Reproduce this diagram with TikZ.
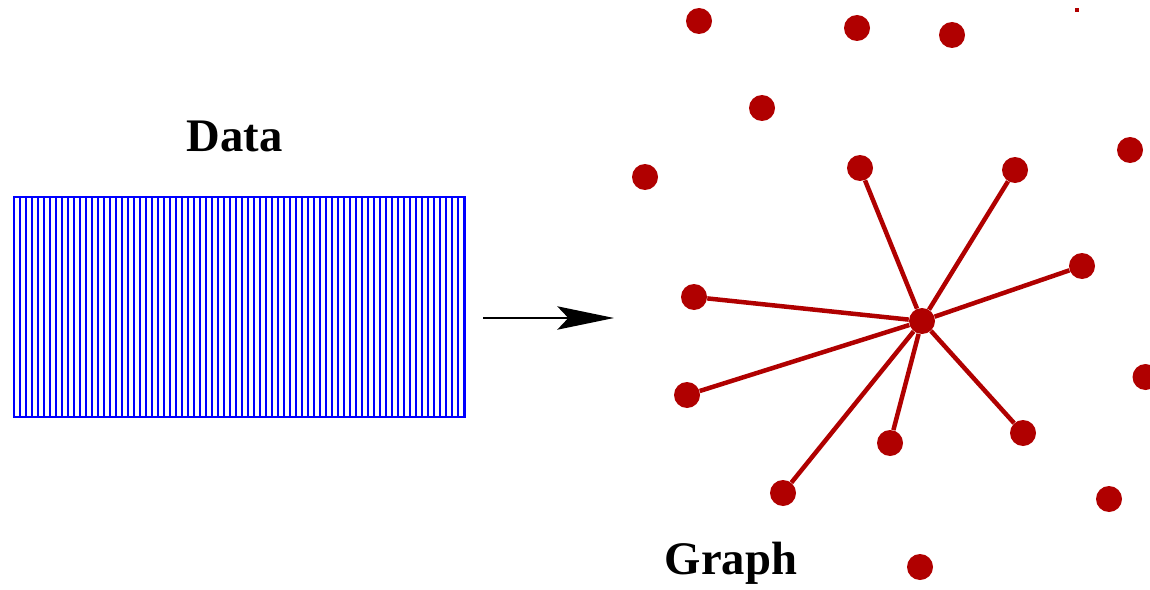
\documentclass[tikz,border=0pt]{standalone}
\usepackage{fontspec}
\setmainfont{Liberation Serif}
\usetikzlibrary{arrows.meta}
\definecolor{datablue}{HTML}{0000FF}
\definecolor{graphred}{HTML}{B00000}
\tikzset{
    every node/.style={font=\fontsize{28}{32}\selectfont\bfseries},
    datablock/.style={rectangle,draw=datablue,line width=0.9pt,minimum width=270.6pt,minimum height=132pt,inner sep=0pt},
    hatch/.style={datablue,line width=0.9pt},
    vtx/.style={circle,fill=graphred,minimum size=15.6pt,inner sep=0pt},
    speck/.style={rectangle,fill=graphred,minimum size=2pt,inner sep=0pt},
    link/.style={graphred,line width=2.7pt},
    flow/.style={-{Stealth[length=34pt,width=14pt,inset=6.6pt]},line width=1.5pt}
}
\begin{document}
\begin{tikzpicture}[x=0.6pt,y=-0.6pt]
    \useasboundingbox (0,0) rectangle (1150,590);
    % data block
    \node[anchor=base] (datalbl) at (234.5,152) {Data};
    \node[datablock] (data) at (239.5,307) {};
    \foreach \i in {0,...,75}
        \draw[hatch] (14+6*\i,197) -- (14+6*\i,417);
    \coordinate (flowS) at (483,318);
    \coordinate (flowE) at (614,318);
    \draw[flow] (flowS) -- (flowE);
    % graph
    \node[anchor=base] (graphlbl) at (731,574) {Graph};
    \node[speck] (sp) at (1077,10) {};
    \node[vtx] (hub) at (922,321) {};
    \node[vtx] (v1) at (699,21) {};
    \node[vtx] (v2) at (857,28) {};
    \node[vtx] (v3) at (952,35) {};
    \node[vtx] (v4) at (762,108) {};
    \node[vtx] (v5) at (1130,150) {};
    \node[vtx] (v6) at (645,177) {};
    \node[vtx] (v7) at (860,168) {};
    \node[vtx] (v8) at (1015,170) {};
    \node[vtx] (v9) at (1082,266) {};
    \node[vtx] (v10) at (694,297) {};
    \node[vtx] (v11) at (1145.5,377) {};
    \node[vtx] (v12) at (687,395) {};
    \node[vtx] (v13) at (890,443) {};
    \node[vtx] (v14) at (1023,433) {};
    \node[vtx] (v15) at (783,493) {};
    \node[vtx] (v16) at (1109,499) {};
    \node[vtx] (v17) at (920,567) {};
    \foreach \t in {v7,v8,v9,v10,v12,v13,v14,v15}
        \draw[link] (hub) -- (\t);
\end{tikzpicture}
\end{document}
